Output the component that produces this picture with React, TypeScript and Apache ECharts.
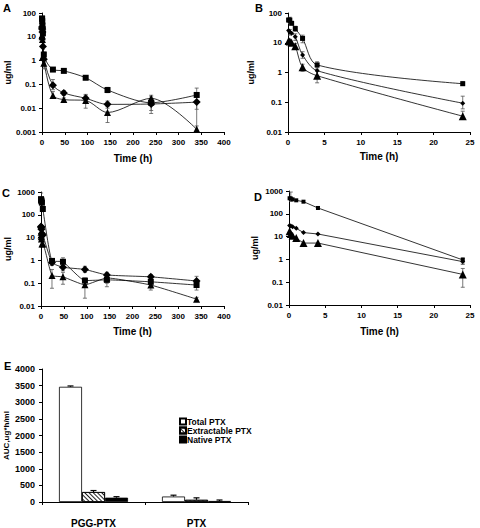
import React, { useEffect, useRef } from 'react';
import * as echarts from 'echarts';

const FONT = '"Liberation Sans", Arial, sans-serif';

// ---------- Panels A/B data (first tissue/formulation) ----------
const times1 = [0.083, 0.25, 0.5, 1, 2, 4, 24, 48, 96, 144, 240, 340];
const square1 = [58, 58, 45, 30, 14, 1.8, 0.42, 0.37, 0.19, 0.058, 0.017, 0.036];
const diamond1 = [26, 23, 21, 16, 3.9, 1.15, 0.093, 0.044, 0.026, 0.0145, 0.015, 0.018];
const triangle1 = [11.5, 11, 10, 7.7, 1.5, 0.78, 0.034, 0.023, 0.021, 0.0066, 0.026, 0.0013];
// error bars: [time, low, high]
const squareErr1 = [[0.25, 45, 72], [1, 24, 36], [2, 10, 18], [4, 1.3, 2.3], [24, 0.37, 0.5], [48, 0.33, 0.42], [96, 0.17, 0.22], [144, 0.045, 0.075], [240, 0.006, 0.03], [340, 0.001, 0.07]];
const diamondErr1 = [[0.25, 18, 28], [1, 12, 20], [2, 3, 5], [4, 0.8, 1.5], [24, 0.06, 0.16], [48, 0.035, 0.055], [96, 0.018, 0.038], [144, 0.01, 0.02], [240, 0.008, 0.025], [340, 0.009, 0.03]];
const triangleErr1 = [[0.25, 9, 13], [1, 6, 9.5], [2, 1.1, 1.9], [4, 0.45, 1.2], [24, 0.027, 0.05], [48, 0.02, 0.027], [96, 0.01, 0.035], [144, 0.0025, 0.012], [240, 0.015, 0.035], [340, 0.001, 0.0018]];

// ---------- Panels C/D data ----------
const times2 = [0.083, 0.25, 0.5, 1, 2, 4, 24, 48, 96, 144, 240, 340];
const square2 = [480, 470, 430, 390, 340, 180, 0.95, 0.87, 0.13, 0.14, 0.115, 0.083];
const diamond2 = [31, 29, 27, 23, 15, 13, 0.8, 0.5, 0.4, 0.23, 0.19, 0.125];
const triangle2 = [17, 13, 11, 8.6, 5.2, 5.2, 0.22, 0.19, 0.085, 0.17, 0.083, 0.02];
const squareErr2 = [[0.25, 350, 900], [4, 160, 210], [24, 0.7, 1.2], [48, 0.6, 1.3], [96, 0.09, 0.17], [144, 0.1, 0.2], [240, 0.09, 0.15], [340, 0.05, 0.13]];
const diamondErr2 = [[24, 0.6, 1.1], [48, 0.35, 0.7], [96, 0.3, 0.55], [144, 0.17, 0.3], [240, 0.15, 0.24], [340, 0.08, 0.2]];
const triangleErr2 = [[24, 0.06, 0.4], [48, 0.09, 0.3], [96, 0.022, 0.12], [144, 0.07, 0.26], [240, 0.05, 0.1], [340, 0.016, 0.024]];

// ---------- Panel E data ----------
const aucCategories = ['PGG-PTX', 'PTX'];
const aucTotal = [3465, 165];
const aucExtractable = [300, 65];
const aucNative = [130, 30];
const aucTotalHi = [3490, 205];
const aucExtractableHi = [345, 125];
const aucNativeHi = [160, 60];

const xTicks1 = { max: 400, interval: 50 };
const xTicks2 = { max: 25, interval: 5 };

const zip = (t: number[], v: number[], maxT = Infinity) =>
  t.map((x, i) => [x, v[i]]).filter((p) => p[0] <= maxT);
const filt = (e: number[][], maxT = Infinity) => e.filter((p) => p[0] <= maxT);

const fmtLog = (v: number) => {
  if (v >= 1) return String(Math.round(v));
  return String(parseFloat(v.toPrecision(1)));
};

const labelStyle = (size: number) => ({
  fontSize: size,
  fontWeight: 'bold' as const,
  color: '#000',
  fontFamily: FONT,
});

function xAxis(gridIndex: number, t: { max: number; interval: number }, nameGap: number) {
  return {
    type: 'value',
    gridIndex,
    min: 0,
    max: t.max,
    interval: t.interval,
    axisLine: { show: true, onZero: false, lineStyle: { color: '#000', width: 1 } },
    axisTick: { show: true, length: 3, lineStyle: { color: '#000' } },
    splitLine: { show: false },
    axisLabel: { ...labelStyle(8), margin: 6 },
    name: 'Time (h)',
    nameLocation: 'middle',
    nameGap,
    nameTextStyle: labelStyle(10),
  };
}

function yLog(gridIndex: number, min: number, max: number, nameGap: number) {
  return {
    type: 'log',
    logBase: 10,
    gridIndex,
    min,
    max,
    interval: 1,
    axisLine: { show: true, lineStyle: { color: '#000', width: 1 } },
    axisTick: { show: true, length: 3, lineStyle: { color: '#000' } },
    splitLine: { show: false },
    minorTick: { show: false },
    axisLabel: { ...labelStyle(8), margin: 6, formatter: fmtLog, hideOverlap: false },
    name: 'ug/ml',
    nameLocation: 'middle',
    nameRotate: 90,
    nameGap,
    nameTextStyle: labelStyle(9),
  };
}

function line(xi: number, data: number[][], symbol: string, size: number, smooth: number | boolean) {
  return {
    type: 'line',
    xAxisIndex: xi,
    yAxisIndex: xi,
    data,
    symbol,
    symbolSize: size,
    showSymbol: true,
    smooth,
    lineStyle: { color: '#000', width: 0.8 },
    itemStyle: { color: '#000', borderWidth: 0 },
    z: 3,
    silent: true,
  };
}

function errBars(xi: number, data: number[][], cap: number) {
  return {
    type: 'custom',
    xAxisIndex: xi,
    yAxisIndex: xi,
    data,
    z: 2,
    silent: true,
    clip: true,
    renderItem: (_p: any, api: any) => {
      const x = api.value(0);
      const lo = api.coord([x, api.value(1)]);
      const hi = api.coord([x, api.value(2)]);
      const st = { stroke: '#555', lineWidth: 0.8 };
      return {
        type: 'group',
        children: [
          { type: 'line', shape: { x1: lo[0], y1: lo[1], x2: hi[0], y2: hi[1] }, style: st },
          { type: 'line', shape: { x1: hi[0] - cap, y1: hi[1], x2: hi[0] + cap, y2: hi[1] }, style: st },
          { type: 'line', shape: { x1: lo[0] - cap, y1: lo[1], x2: lo[0] + cap, y2: lo[1] }, style: st },
        ],
      };
    },
  };
}

const BAR_W = 23;

function barErr(values: number[], highs: number[], slot: number) {
  return {
    type: 'custom',
    xAxisIndex: 4,
    yAxisIndex: 4,
    data: values.map((v, i) => [i, v, highs[i]]),
    z: 4,
    silent: true,
    renderItem: (_p: any, api: any) => {
      const a = api.coord([api.value(0), api.value(1)]);
      const b = api.coord([api.value(0), api.value(2)]);
      const cx = a[0] + slot * BAR_W;
      const st = { stroke: '#000', lineWidth: 1.2 };
      return {
        type: 'group',
        children: [
          { type: 'line', shape: { x1: cx, y1: a[1], x2: cx, y2: b[1] }, style: st },
          { type: 'line', shape: { x1: cx - 3, y1: b[1], x2: cx + 3, y2: b[1] }, style: st },
        ],
      };
    },
  };
}

function letter(text: string, x: number, y: number) {
  return {
    type: 'text',
    x,
    y,
    style: { text, ...labelStyle(11), fill: '#000', textVerticalAlign: 'top' },
  };
}

const option: any = {
  animation: false,
  backgroundColor: '#fff',
  grid: [
    { left: 42, top: 13, width: 182, height: 119 },
    { left: 288, top: 13, width: 182, height: 119 },
    { left: 41, top: 192, width: 183, height: 114 },
    { left: 289, top: 191, width: 181, height: 114 },
    { left: 42, top: 369, width: 206, height: 133 },
  ],
  xAxis: [
    xAxis(0, xTicks1, 21),
    xAxis(1, xTicks2, 19),
    xAxis(2, xTicks1, 20),
    xAxis(3, xTicks2, 21),
    {
      type: 'category',
      gridIndex: 4,
      data: aucCategories,
      axisLine: { show: true, lineStyle: { color: '#000', width: 1 } },
      axisTick: { show: true, alignWithLabel: false, length: 3, lineStyle: { color: '#000' } },
      axisLabel: { ...labelStyle(10), margin: 16 },
      splitLine: { show: false },
    },
  ],
  yAxis: [
    yLog(0, 0.001, 100, 29),
    yLog(1, 0.01, 100, 33),
    yLog(2, 0.01, 1000, 29),
    yLog(3, 0.01, 1000, 30),
    {
      type: 'value',
      gridIndex: 4,
      min: 0,
      max: 4000,
      interval: 500,
      axisLine: { show: true, lineStyle: { color: '#000', width: 1 } },
      axisTick: { show: true, length: 3, lineStyle: { color: '#000' } },
      splitLine: { show: false },
      axisLabel: { ...labelStyle(9), margin: 7, formatter: (v: number) => String(v) },
      name: 'AUC,ug*h/ml',
      nameLocation: 'middle',
      nameRotate: 90,
      nameGap: 32,
      nameTextStyle: labelStyle(8),
    },
  ],
  legend: {
    data: ['Total PTX', 'Extractable PTX', 'Native PTX'],
    orient: 'vertical',
    left: 174,
    top: 412,
    itemWidth: 6,
    itemHeight: 6,
    itemGap: 0,
    icon: 'rect',
    selectedMode: false,
    textStyle: { ...labelStyle(8.5), lineHeight: 6.5, padding: [0, 0, 0, -4] },
  },
  graphic: [
    letter('A', 3, 2),
    letter('B', 255, 2),
    letter('C', 2, 187),
    letter('D', 254, 191),
    letter('E', 4, 360),
  ],
  series: [
    // A
    errBars(0, squareErr1, 2),
    errBars(0, diamondErr1, 2),
    errBars(0, triangleErr1, 2),
    line(0, zip(times1, square1), 'rect', 6, 0.3),
    line(0, zip(times1, diamond1), 'diamond', 8, 0.3),
    line(0, zip(times1, triangle1), 'triangle', 7, 0.3),
    // B
    errBars(1, filt(squareErr1, 25), 2),
    errBars(1, filt(diamondErr1, 25), 2),
    errBars(1, filt(triangleErr1, 25), 2),
    line(1, zip(times1, square1, 25), 'rect', 5, 0.3),
    line(1, zip(times1, diamond1, 25), 'diamond', 5, 0.3),
    line(1, zip(times1, triangle1, 25), 'triangle', 8, 0.3),
    // C
    errBars(2, squareErr2, 2),
    errBars(2, diamondErr2, 2),
    errBars(2, triangleErr2, 2),
    line(2, zip(times2, square2), 'rect', 6, 0.15),
    line(2, zip(times2, diamond2), 'diamond', 8, 0.15),
    line(2, zip(times2, triangle2), 'triangle', 7, 0.15),
    // D
    errBars(3, filt(squareErr2, 25), 2),
    errBars(3, filt(diamondErr2, 25), 2),
    errBars(3, filt(triangleErr2, 25), 2),
    line(3, zip(times2, square2, 25), 'rect', 4, false),
    line(3, zip(times2, diamond2, 25), 'diamond', 5, false),
    line(3, zip(times2, triangle2, 25), 'triangle', 8, false),
    // E
    {
      type: 'bar',
      name: 'Total PTX',
      xAxisIndex: 4,
      yAxisIndex: 4,
      data: aucTotal,
      barWidth: BAR_W,
      barGap: '0%',
      itemStyle: { color: '#fff', borderColor: '#000', borderWidth: 0.8 },
    },
    {
      type: 'bar',
      name: 'Extractable PTX',
      xAxisIndex: 4,
      yAxisIndex: 4,
      data: aucExtractable,
      barWidth: BAR_W,
      barGap: '0%',
      itemStyle: {
        color: '#fff',
        borderColor: '#000',
        borderWidth: 0.8,
        decal: {
          symbol: 'rect',
          symbolSize: 1,
          color: '#222',
          dashArrayX: [1, 0],
          dashArrayY: [0.7, 1.8],
          rotation: Math.PI / 4,
        },
      },
    },
    {
      type: 'bar',
      name: 'Native PTX',
      xAxisIndex: 4,
      yAxisIndex: 4,
      data: aucNative,
      barWidth: BAR_W,
      barGap: '0%',
      itemStyle: { color: '#000', borderColor: '#000', borderWidth: 0.8 },
    },
    barErr(aucTotal, aucTotalHi, -1),
    barErr(aucExtractable, aucExtractableHi, 0),
    barErr(aucNative, aucNativeHi, 1),
  ],
};

export default function App() {
  const ref = useRef<HTMLDivElement>(null);
  useEffect(() => {
    if (!ref.current) return;
    const chart = echarts.init(ref.current, null, { renderer: 'svg' });
    chart.setOption(option);
    return () => chart.dispose();
  }, []);
  return (
    <div
      ref={ref}
      style={{ position: 'absolute', left: 0, top: 0, width: 480, height: 528, background: '#fff' }}
    />
  );
}
